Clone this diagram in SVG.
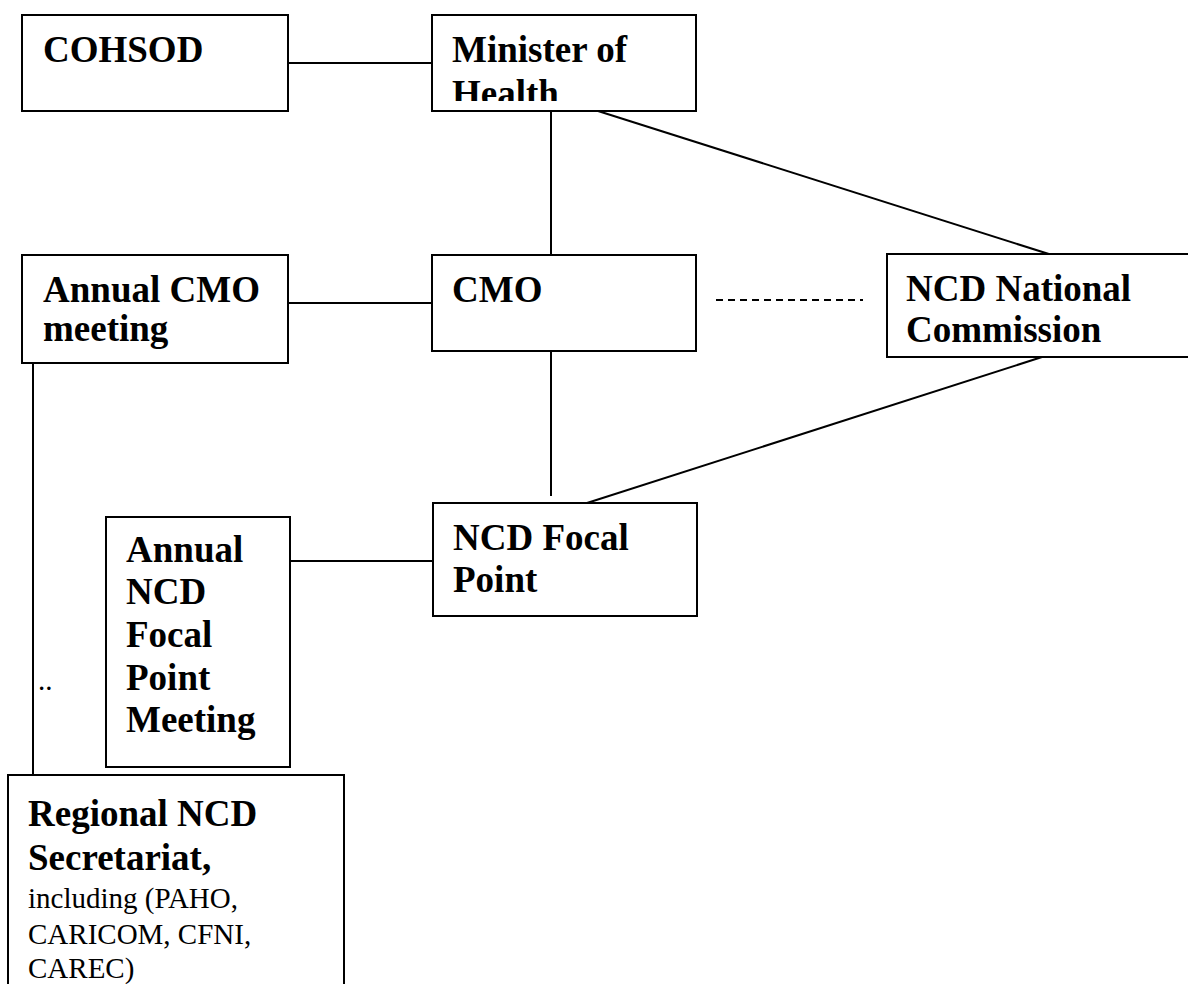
<svg xmlns="http://www.w3.org/2000/svg" width="1188" height="984" viewBox="0 0 1188 984">
<style>
.box{fill:#fff;stroke:#000;stroke-width:2}
.b{font-family:"Liberation Serif","Times New Roman",serif;font-weight:bold;font-size:37px;fill:#000}
.r{font-family:"Liberation Serif","Times New Roman",serif;font-size:29px;fill:#000}
.ln{stroke:#000;stroke-width:2;fill:none}
</style>
<defs>
<clipPath id="clipMin"><rect x="432" y="15" width="264" height="86"/></clipPath>
</defs>
<rect width="1188" height="984" fill="#fff"/>
<g id="connectors">
<line class="ln" x1="288" y1="63" x2="432" y2="63"/>
<line class="ln" x1="551" y1="111" x2="551" y2="255"/>
<line class="ln" x1="598" y1="111" x2="1052" y2="255"/>
<line class="ln" x1="288" y1="303" x2="432" y2="303"/>
<line class="ln" x1="716" y1="300" x2="863" y2="300" stroke-dasharray="7,5"/>
<line class="ln" x1="551" y1="351" x2="551" y2="496"/>
<line class="ln" x1="1042" y1="357" x2="587" y2="503"/>
<line class="ln" x1="290" y1="561" x2="433" y2="561"/>
<line class="ln" x1="33" y1="363" x2="33" y2="776"/>
</g>
<g id="cohsod">
<rect class="box" x="22" y="15" width="266" height="96"/>
<text class="b" x="43" y="62">COHSOD</text>
</g>
<g id="minister">
<rect class="box" x="432" y="15" width="264" height="96"/>
<g clip-path="url(#clipMin)">
<text class="b" x="452" y="62">Minister of</text>
<text class="b" x="452" y="106">Health</text>
</g>
</g>
<g id="annual-cmo">
<rect class="box" x="22" y="255" width="266" height="108"/>
<text class="b" x="43" y="302">Annual CMO</text>
<text class="b" x="43" y="341">meeting</text>
</g>
<g id="cmo">
<rect class="box" x="432" y="255" width="264" height="96"/>
<text class="b" x="452" y="302">CMO</text>
</g>
<g id="ncd-commission">
<rect class="box" x="887" y="254" width="310" height="103"/>
<text class="b" x="906" y="301">NCD National</text>
<text class="b" x="906" y="342">Commission</text>
</g>
<g id="ncd-focal">
<rect class="box" x="433" y="503" width="264" height="113"/>
<text class="b" x="453" y="550">NCD Focal</text>
<text class="b" x="453" y="592">Point</text>
</g>
<g id="annual-ncd">
<rect class="box" x="106" y="517" width="184" height="250"/>
<text class="b" x="126" y="562">Annual</text>
<text class="b" x="126" y="604">NCD</text>
<text class="b" x="126" y="647">Focal</text>
<text class="b" x="126" y="690">Point</text>
<text class="b" x="126" y="732">Meeting</text>
</g>
<text class="r" x="38" y="690" font-size="20">..</text>
<g id="regional">
<rect class="box" x="8" y="775" width="336" height="220"/>
<text class="b" x="28" y="826">Regional NCD</text>
<text class="b" x="28" y="870">Secretariat,</text>
<text class="r" x="28" y="908">including (PAHO,</text>
<text class="r" x="28" y="944">CARICOM, CFNI,</text>
<text class="r" x="28" y="978">CAREC)</text>
</g>
</svg>
